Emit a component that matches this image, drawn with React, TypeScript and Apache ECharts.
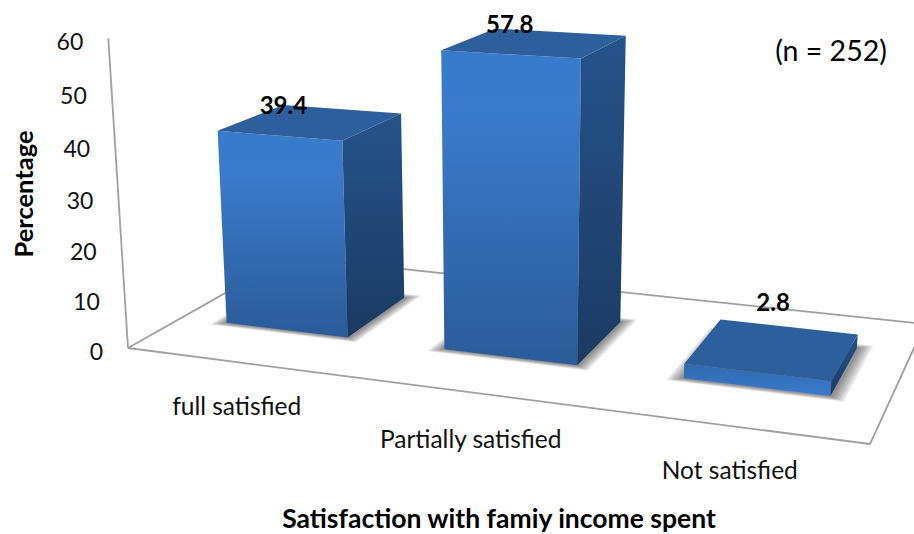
import React, { useEffect, useRef } from "react";
import * as echarts from "echarts";

// Chart content
const categories = ["full satisfied", "Partially satisfied", "Not satisfied"];
const percentages = [39.4, 57.8, 2.8];
const yTicks = [0, 10, 20, 30, 40, 50, 60];
const yTitle = "Percentage";
const xTitle = "Satisfaction with famiy income spent";
const sampleNote = "(n = 252)";

// Perspective floor: pixel corners of the unit square (u along categories, v into depth)
const FLOOR = {
  frontLeft: [128, 348],
  frontRight: [870, 444],
  backRight: [925, 324],
  backLeft: [289, 257],
};
const WALL_TOP = [108.3, 38.3]; // where the value axis ends above the front-left corner
const HEIGHT_W = -0.0495; // vertical foreshortening term

const BAR_WIDTH = 0.567; // share of a category band
const BAR_V_FRONT = 0.3;
const BAR_V_BACK = 0.71;
const FONT = "Lato, 'Open Sans', sans-serif";

// Soft floor shadow, built from nested translucent footprints
const SHADOW_STEPS = [0.004, 0.007, 0.01, 0.013, 0.016, 0.019];
const SHADOW_ALPHA = 0.1;

// Pixel nudges for the value labels and category labels
const LABEL_NUDGE = [
  [-28, -17],
  [-26, -19],
  [0, -47],
];
const CATEGORY_NUDGE = [43, 46.5, 44];

function buildProjection() {
  const [x0, y0] = FLOOR.frontLeft;
  const [x1, y1] = FLOOR.frontRight;
  const [x2, y2] = FLOOR.backRight;
  const [x3, y3] = FLOOR.backLeft;
  const dx1 = x1 - x2;
  const dx2 = x3 - x2;
  const sx = x0 - x1 + x2 - x3;
  const dy1 = y1 - y2;
  const dy2 = y3 - y2;
  const sy = y0 - y1 + y2 - y3;
  const det = dx1 * dy2 - dx2 * dy1;
  const g = (sx * dy2 - dx2 * sy) / det;
  const k = (dx1 * sy - sx * dy1) / det;
  const a = x1 - x0 + g * x1;
  const b = x3 - x0 + k * x3;
  const d = y1 - y0 + g * y1;
  const e = y3 - y0 + k * y3;
  const cx = WALL_TOP[0] * (1 + HEIGHT_W) - x0;
  const cy = WALL_TOP[1] * (1 + HEIGHT_W) - y0;
  return (u: number, v: number, h: number): [number, number] => {
    const w = g * u + k * v + 1 + HEIGHT_W * h;
    return [
      (a * u + b * v + x0 + cx * h) / w,
      (d * u + e * v + y0 + cy * h) / w,
    ];
  };
}
const project = buildProjection();

const vGrad = (stops: [number, string][], x2 = 0, y2 = 1) =>
  new echarts.graphic.LinearGradient(
    0,
    0,
    x2,
    y2,
    stops.map(([offset, color]) => ({ offset, color }))
  );

const renderBar = (params: any, api: any) => {
  const cs = params.coordSys;
  const value = api.value(1);
  const [cxPx, basePx] = api.coord([api.value(0), 0]);
  const [, topPx] = api.coord([api.value(0), value]);
  const uc = (cxPx - cs.x) / cs.width;
  const hw = ((api.size([1, 0])[0] / cs.width) * BAR_WIDTH) / 2;
  const h = (basePx - topPx) / cs.height;
  const u0 = uc - hw;
  const u1 = uc + hw;
  const v0 = BAR_V_FRONT;
  const v1 = BAR_V_BACK;

  const flat = h < 0.1;
  const front = [project(u0, v0, h), project(u1, v0, h), project(u1, v0, 0), project(u0, v0, 0)];
  const side = [project(u1, v0, h), project(u1, v1, h), project(u1, v1, 0), project(u1, v0, 0)];
  const top = [project(u0, v0, h), project(u1, v0, h), project(u1, v1, h), project(u0, v1, h)];

  const shadows = SHADOW_STEPS.map((s) => ({
    type: "polygon",
    shape: {
      points: [
        project(u0 - s, v0 - s * 1.6, 0),
        project(u1 + s, v0 - s * 1.6, 0),
        project(u1 + s, v1 + s * 2, 0),
        project(u0 - s, v1 + s * 2, 0),
      ],
    },
    style: { fill: `rgba(30,30,30,${SHADOW_ALPHA})` },
  }));

  const idx = params.dataIndex;
  const labelAt = project(uc, (v0 + v1) / 2, h);
  return {
    type: "group",
    children: [
      ...shadows,
      {
        type: "polygon",
        shape: { points: front },
        style: {
          fill: flat
            ? vGrad([
                [0, "#3069ae"],
                [1, "#3a7bcd"],
              ])
            : vGrad([
                [0, "#3a7acb"],
                [0.2, "#3b7bcc"],
                [1, "#2b5b98"],
              ]),
        },
      },
      {
        type: "polygon",
        shape: { points: side },
        style: {
          fill: vGrad([
            [0, "#26538a"],
            [1, "#1b3a62"],
          ]),
        },
      },
      {
        type: "polygon",
        shape: { points: top },
        style: { fill: "#2c5f9b" },
      },
      {
        type: "text",
        x: labelAt[0] + LABEL_NUDGE[idx][0],
        y: labelAt[1] + LABEL_NUDGE[idx][1],
        style: {
          text: String(value),
          fill: "#000",
          font: `bold 24px ${FONT}`,
          align: "center",
          verticalAlign: "middle",
        },
      },
    ],
  };
};

const renderYTick = (params: any, api: any) => {
  const cs = params.coordSys;
  const value = api.value(1);
  const h = (cs.y + cs.height - api.coord([0, value])[1]) / cs.height;
  const [x, y] = project(0, 0, h);
  return {
    type: "text",
    x: x - 25,
    y: y + 2.5,
    style: {
      text: String(value),
      fill: "#111",
      font: `23px ${FONT}`,
      align: "right",
      verticalAlign: "middle",
    },
  };
};

const renderCategory = (params: any, api: any) => {
  const cs = params.coordSys;
  const u = (api.coord([api.value(0), 0])[0] - cs.x) / cs.width;
  const [x, y] = project(u, 0, 0);
  return {
    type: "text",
    x,
    y: y + CATEGORY_NUDGE[params.dataIndex],
    style: {
      text: categories[params.dataIndex],
      fill: "#111",
      font: `24.5px ${FONT}`,
      align: "center",
      verticalAlign: "middle",
    },
  };
};

const frameLine = (a: number[], b: number[]) => ({
  type: "line",
  shape: { x1: a[0], y1: a[1], x2: b[0], y2: b[1] },
  style: { stroke: "#a0a0a0", lineWidth: 1.8 },
});

const staticText = (text: string, x: number, y: number, font: string, rotation = 0) => ({
  type: "text",
  x,
  y,
  rotation,
  style: { text, fill: "#000", font, align: "center", verticalAlign: "middle" },
});

export default function App() {
  const ref = useRef<HTMLDivElement>(null);

  useEffect(() => {
    document.body.style.margin = "0";
    const chart = echarts.init(ref.current!, undefined, { renderer: "svg" });
    chart.setOption({
      animation: false,
      backgroundColor: "#fff",
      grid: { left: 0, right: 0, top: 0, bottom: 0 },
      xAxis: { type: "category", data: categories, show: false },
      yAxis: { type: "value", min: 0, max: 60, interval: 10, show: false },
      graphic: [
        frameLine(WALL_TOP, FLOOR.frontLeft),
        frameLine(FLOOR.frontLeft, FLOOR.frontRight),
        frameLine(FLOOR.frontRight, FLOOR.backRight),
        frameLine(FLOOR.backRight, FLOOR.backLeft),
        frameLine(FLOOR.backLeft, FLOOR.frontLeft),
        staticText(yTitle, 23, 194, `bold 25.5px ${FONT}`, Math.PI / 2),
        staticText(xTitle, 499, 518, `bold 26.5px ${FONT}`),
        staticText(sampleNote, 831, 50, `28.5px ${FONT}`),
      ],
      series: [
        {
          type: "custom",
          name: "Percentage",
          renderItem: renderBar,
          encode: { x: 0, y: 1 },
          data: percentages.map((p, i) => [i, p]),
          z: 3,
        },
        {
          type: "custom",
          renderItem: renderYTick,
          encode: { x: 0, y: 1 },
          data: yTicks.map((t) => [0, t]),
          z: 4,
        },
        {
          type: "custom",
          renderItem: renderCategory,
          encode: { x: 0, y: 1 },
          data: categories.map((_, i) => [i, 0]),
          z: 4,
        },
      ],
    });
    return () => chart.dispose();
  }, []);

  return <div ref={ref} style={{ width: 914, height: 534 }} />;
}
